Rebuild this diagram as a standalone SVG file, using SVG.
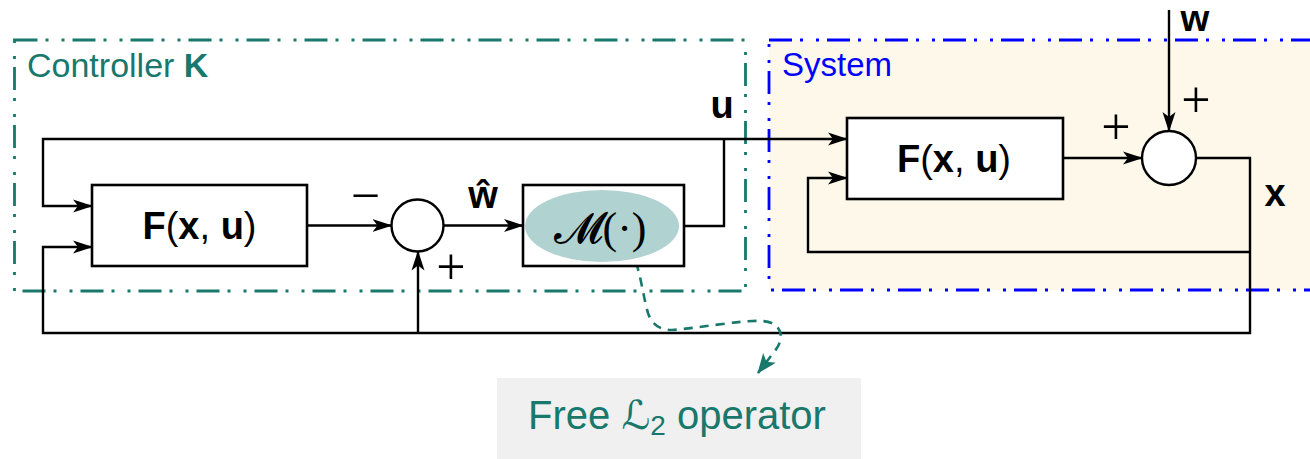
<svg xmlns="http://www.w3.org/2000/svg" width="1310" height="459" viewBox="0 0 1310 459">
<style>
.ln{fill:none;stroke:#000;stroke-width:2.4;stroke-linejoin:miter}
.box{fill:#fff;stroke:#000;stroke-width:2.6}
.sum{fill:#fff;stroke:#000;stroke-width:2.4}
.lbl{font-family:"Liberation Sans",Arial,sans-serif;font-weight:bold;fill:#000}
.fx{font-family:"Liberation Sans",Arial,sans-serif;font-size:38px;fill:#000;text-anchor:middle}
.pm{font-family:"Liberation Serif","Times New Roman",serif;font-size:52px;fill:#000;text-anchor:middle}
.title{font-family:"Liberation Sans",Arial,sans-serif;font-size:33px}
</style>
<defs>
<marker id="ah" viewBox="0 0 20 14" refX="19" refY="7" markerWidth="20" markerHeight="14" orient="auto" markerUnits="userSpaceOnUse">
<path d="M0,0.5 L20,7 L0,13.5 L5,7 z" fill="#000"/>
</marker>
<marker id="ahT" viewBox="0 0 20 16" refX="19" refY="8" markerWidth="20" markerHeight="16" orient="auto" markerUnits="userSpaceOnUse">
<path d="M0,0 L20,8 L0,16 L5,8 z" fill="#17786b"/>
</marker>
</defs>
<g id="system-region">
<rect x="769" y="40" width="560" height="250" fill="#fdf8e9" stroke="#0000ff" stroke-width="2.8" stroke-dasharray="23 8 3 13 3 8"/>
<text x="782" y="76" class="title" fill="#0000ff">System</text>
</g>
<g id="controller-region">
<rect x="14.5" y="40" width="731" height="251" fill="none" stroke="#17786b" stroke-width="2.8" stroke-dasharray="23 8 3 13 3 8"/>
<text x="27" y="77" class="title" font-size="34" fill="#17786b" style="font-size:34px">Controller <tspan font-weight="bold">K</tspan></text>
</g>
<g id="connectors">
<path class="ln" d="M685,226 H724 V139"/>
<path class="ln" d="M724,139 H847" marker-end="url(#ah)"/>
<path class="ln" d="M724,139 H43 V206 H92" marker-end="url(#ah)"/>
<path class="ln" d="M307,225.5 H391.5" marker-end="url(#ah)"/>
<path class="ln" d="M443.5,225.5 H523" marker-end="url(#ah)"/>
<path class="ln" d="M1196,158 H1250 V333 H43 V247 H92" marker-end="url(#ah)"/>
<path class="ln" d="M418,333 V251.5" marker-end="url(#ah)"/>
<path class="ln" d="M1250,252 H808 V178 H847" marker-end="url(#ah)"/>
<path class="ln" d="M1063,158 H1142" marker-end="url(#ah)"/>
<path class="ln" d="M1169,10 V131" marker-end="url(#ah)"/>
<path d="M636,262 C642,282 644,300 648,313 C652,325 660,330 672,330 C700,328 740,320 762,321 C782,322 786,338 774,352 L758,373" fill="none" stroke="#17786b" stroke-width="2.6" stroke-dasharray="9 7" marker-end="url(#ahT)"/>
<text x="722" y="118" class="lbl" font-size="38" text-anchor="middle">u</text>
<text x="483" y="208" class="lbl" font-size="38" text-anchor="middle">ŵ</text>
<text x="1195" y="31" class="lbl" font-size="37" text-anchor="middle">w</text>
<text x="1275" y="206" class="lbl" font-size="38" text-anchor="middle">x</text>
</g>
<g id="F-controller">
<rect class="box" x="92" y="185" width="215" height="81"/>
<text class="fx" x="199.5" y="239"><tspan font-weight="bold">F</tspan>(<tspan font-weight="bold">x</tspan>, <tspan font-weight="bold">u</tspan>)</text>
</g>
<g id="sum-controller">
<circle class="sum" cx="417.5" cy="225.5" r="26"/>
<text class="pm" x="365.5" y="213">−</text>
<text class="pm" x="451" y="284">+</text>
</g>
<g id="M-operator">
<rect class="box" x="523" y="185" width="161" height="81"/>
<ellipse cx="602" cy="226" rx="77" ry="36" fill="#b0d2d0"/>
<text x="600" y="243" font-size="44" text-anchor="middle" fill="#000" font-family="'DejaVu Sans','DejaVu Serif',serif"><tspan>𝓜</tspan><tspan font-family="'Liberation Serif',serif">(·)</tspan></text>
</g>
<g id="F-system">
<rect class="box" x="847" y="118" width="216" height="81"/>
<text class="fx" x="954" y="172"><tspan font-weight="bold">F</tspan>(<tspan font-weight="bold">x</tspan>, <tspan font-weight="bold">u</tspan>)</text>
</g>
<g id="sum-system">
<circle class="sum" cx="1169" cy="158" r="27"/>
<text class="pm" x="1116" y="144">+</text>
<text class="pm" x="1196" y="117">+</text>
</g>
<g id="free-L2-label">
<rect x="497" y="378" width="364" height="81" fill="#f0f0f0"/>
<text x="677" y="429" font-family="'Liberation Sans',Arial,sans-serif" font-size="40" fill="#17786b" text-anchor="middle">Free <tspan font-family="'DejaVu Serif','DejaVu Sans',serif" font-style="italic">ℒ</tspan><tspan font-size="28" dy="6">2</tspan><tspan dy="-6"> operator</tspan></text>
</g>
</svg>
